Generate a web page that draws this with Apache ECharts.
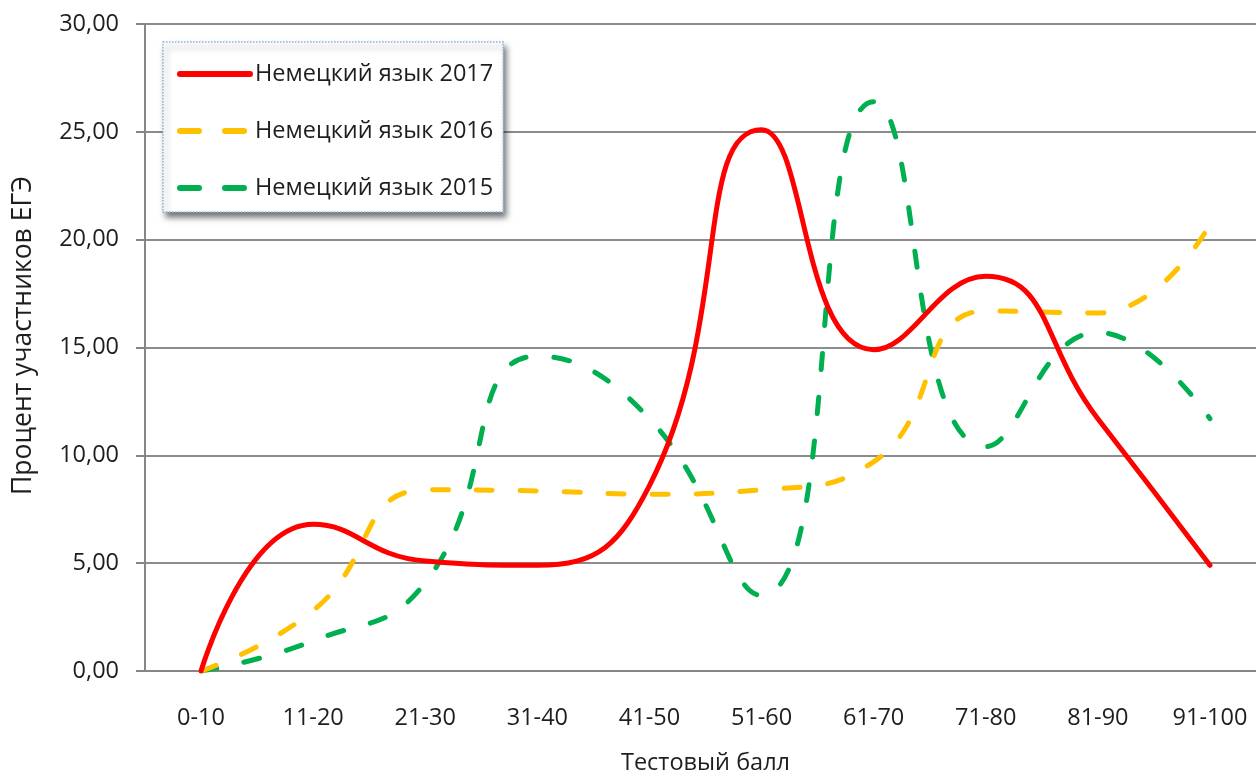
<!DOCTYPE html>
<html>
<head>
<meta charset="utf-8">
<script src="https://cdn.jsdelivr.net/npm/echarts@6/dist/echarts.min.js"></script>
<style>
html,body{margin:0;padding:0;background:#fff;}
#chart{width:1256px;height:771px;}
</style>
</head>
<body>
<div id="chart"></div>
<script>
var categories = ['0-10','11-20','21-30','31-40','41-50','51-60','61-70','71-80','81-90','91-100'];
var german2017 = [0, 6.8, 5.1, 4.9, 8.6, 25.1, 14.9, 18.3, 11.7, 4.9];
var german2016 = [0, 2.8, 8.4, 8.35, 8.2, 8.4, 9.7, 16.7, 16.6, 20.7];
var german2015 = [0, 1.4, 4.1, 14.6, 11.7, 3.5, 26.4, 10.4, 15.7, 11.7];
var seriesNames = ['Немецкий язык 2017','Немецкий язык 2016','Немецкий язык 2015'];
var yTicks = [0, 5, 10, 15, 20, 25, 30];

var FONT = 'Open Sans';
var TXT = '#1e1e1e';
var chart = echarts.init(document.getElementById('chart'));
var dash = [16, 28];
var colors = ['#ff0000', '#ffc000', '#00b050'];
chart.setOption({
  animation: false,
  backgroundColor: '#ffffff',
  grid: {left: 145, top: 24, right: -10, bottom: 100, containLabel: false, outerBoundsMode: 'none'},
  legend: {
    orient: 'vertical',
    left: 163, top: 42,
    padding: [20, 10, 12, 14],
    itemWidth: 70, itemHeight: 20, itemGap: 33, itemTextGap: 6,
    icon: 'inherit',
    backgroundColor: '#ffffff',
    borderColor: '#8db3e2', borderWidth: 1.5, borderType: 'dotted',
    shadowColor: 'rgba(0,0,0,0.55)', shadowBlur: 6, shadowOffsetX: 3, shadowOffsetY: 5,
    textStyle: {fontFamily: FONT, fontSize: 23.5, color: TXT, lineHeight: 20},
    itemStyle: {opacity: 0, borderWidth: 0},
    lineStyle: {width: 6, cap: 'round', opacity: 1},
    data: [
      {name: seriesNames[0], itemStyle: {opacity: 0, borderWidth: 0}, lineStyle: {type: 'solid', width: 6, cap: 'round', opacity: 1}},
      {name: seriesNames[1], itemStyle: {opacity: 0, borderWidth: 0}, lineStyle: {type: [19, 26], width: 6, cap: 'round', opacity: 1}},
      {name: seriesNames[2], itemStyle: {opacity: 0, borderWidth: 0}, lineStyle: {type: [19, 26], width: 6, cap: 'round', opacity: 1}}
    ]
  },
  xAxis: {
    type: 'category',
    data: categories,
    boundaryGap: true,
    name: 'Тестовый балл',
    nameLocation: 'middle',
    nameGap: 80,
    nameTextStyle: {fontFamily: FONT, fontSize: 23.5, color: TXT},
    axisLine: {lineStyle: {color: '#868686', width: 2}},
    axisTick: {show: false},
    axisLabel: {fontFamily: FONT, fontSize: 23.5, color: TXT, margin: 35}
  },
  yAxis: {
    type: 'value',
    min: 0, max: 30, interval: 5,
    name: 'Процент участников ЕГЭ',
    nameLocation: 'middle',
    nameRotate: 90,
    nameGap: 108,
    nameTextStyle: {fontFamily: FONT, fontSize: 26.5, color: TXT, padding: [0, 0, 0, 24]},
    axisLine: {show: true, lineStyle: {color: '#868686', width: 2}},
    axisTick: {show: true, length: 9, lineStyle: {color: '#868686', width: 2}},
    splitLine: {show: true, lineStyle: {color: '#8c8c8c', width: 2}},
    axisLabel: {
      fontFamily: FONT, fontSize: 23.5, color: TXT, margin: 26,
      formatter: function (v) { return yTicks.indexOf(v) >= 0 ? v.toFixed(2).replace('.', ',') : ''; }
    }
  },
  series: [
    {
      name: seriesNames[0], type: 'line', data: german2017, smooth: 0.5,
      symbol: 'none', z: 4,
      itemStyle: {color: colors[0]},
      lineStyle: {color: colors[0], width: 5, cap: 'round', join: 'round'}
    },
    {
      name: seriesNames[1], type: 'line', data: german2016, smooth: 0.5,
      symbol: 'none', z: 3,
      itemStyle: {color: colors[1]},
      lineStyle: {color: colors[1], width: 5, type: dash, cap: 'round', join: 'round'}
    },
    {
      name: seriesNames[2], type: 'line', data: german2015, smooth: 0.5,
      symbol: 'none', z: 2,
      itemStyle: {color: colors[2]},
      lineStyle: {color: colors[2], width: 5, type: dash, cap: 'round', join: 'round'}
    }
  ]
});
</script>
</body>
</html>
